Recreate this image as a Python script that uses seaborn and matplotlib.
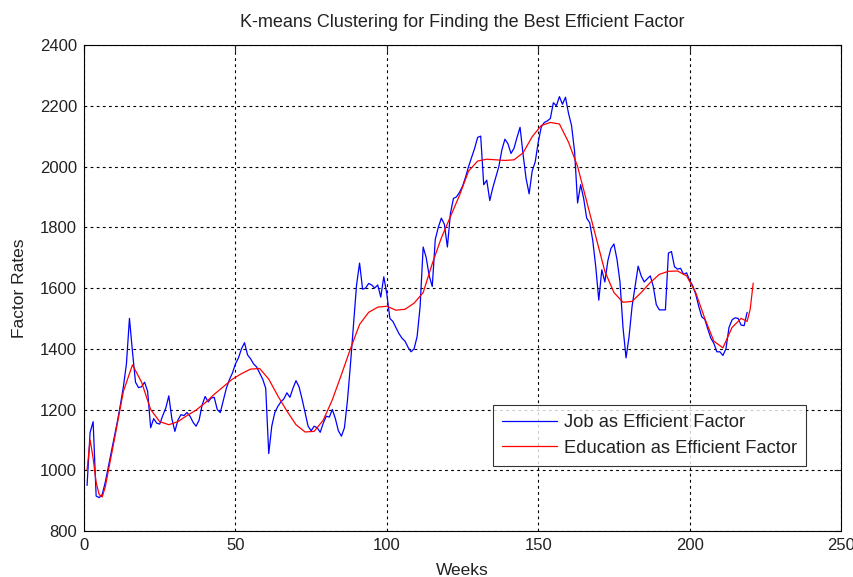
import pandas as pd
import matplotlib
matplotlib.use("Agg")
import matplotlib.pyplot as plt
import seaborn as sns

# Weekly factor rates
job_rates = [
    950, 1124, 1160, 915, 910, 920, 960, 1010, 1060, 1110,
    1160, 1215, 1275, 1350, 1500, 1390, 1290, 1272, 1275, 1290,
    1260, 1140, 1170, 1155, 1152, 1180, 1205, 1245, 1170, 1128,
    1165, 1183, 1180, 1190, 1178, 1158, 1145, 1165, 1215, 1243,
    1225, 1238, 1240, 1200, 1190, 1230, 1270, 1298, 1320, 1350,
    1370, 1400, 1420, 1380, 1367, 1350, 1340, 1320, 1300, 1270,
    1055, 1145, 1190, 1210, 1225, 1235, 1255, 1240, 1270, 1295,
    1275, 1235, 1190, 1145, 1130, 1145, 1140, 1125, 1155, 1178,
    1175, 1200, 1170, 1130, 1112, 1140, 1230, 1350, 1480, 1610,
    1682, 1596, 1600, 1615, 1610, 1600, 1610, 1570, 1637, 1580,
    1500, 1490, 1470, 1450, 1435, 1425, 1405, 1390, 1400, 1440,
    1540, 1735, 1700, 1640, 1605, 1760, 1800, 1830, 1810, 1735,
    1845, 1895, 1900, 1915, 1935, 1965, 2000, 2030, 2060, 2096,
    2100, 1940, 1955, 1888, 1930, 1965, 2000, 2055, 2090, 2075,
    2043, 2060, 2096, 2129, 2040, 1960, 1910, 1985, 2015, 2080,
    2130, 2145, 2150, 2158, 2210, 2200, 2230, 2205, 2228, 2175,
    2135, 2050, 1880, 1940, 1895, 1830, 1815, 1757, 1670, 1560,
    1660, 1620, 1690, 1730, 1745, 1695, 1620, 1470, 1370, 1440,
    1540, 1605, 1672, 1640, 1620, 1630, 1640, 1605, 1545, 1528,
    1528, 1528, 1715, 1720, 1670, 1662, 1665, 1645, 1650, 1625,
    1608, 1580, 1540, 1505, 1497, 1465, 1435, 1418, 1390, 1390,
    1378, 1400, 1470, 1495, 1502, 1500, 1478, 1476, 1520,
]
job_weeks = list(range(1, len(job_rates) + 1))

edu_weeks = [
    1, 2, 3, 4, 5, 6, 7, 10, 13, 16, 19, 22, 25, 28, 31, 34, 37, 40,
    43, 46, 49, 52, 55, 58, 61, 64, 67, 70, 73, 76, 79, 82, 85, 88,
    91, 94, 97, 100, 103, 106, 109, 112, 115, 118, 121, 124, 127, 130,
    133, 136, 139, 142, 145, 148, 151, 154, 157, 160, 163, 166, 169,
    172, 175, 178, 181, 184, 187, 190, 193, 196, 199, 202, 205, 208,
    211, 214, 217, 219, 220, 221,
]
edu_rates = [
    1000, 1100, 1040, 960, 920, 912, 945, 1100, 1260, 1347, 1290, 1200,
    1160, 1150, 1160, 1180, 1198, 1222, 1250, 1275, 1300, 1318, 1333,
    1335, 1300, 1245, 1195, 1150, 1126, 1128, 1165, 1232, 1315, 1400,
    1480, 1520, 1537, 1540, 1527, 1530, 1550, 1585, 1680, 1765, 1835,
    1905, 1985, 2018, 2024, 2022, 2020, 2022, 2045, 2098, 2135, 2145,
    2140, 2080, 2000, 1885, 1770, 1655, 1585, 1553, 1556, 1585, 1618,
    1645, 1655, 1656, 1640, 1585, 1500, 1425, 1403, 1470, 1500, 1490,
    1530, 1616,
]

x_ticks = [0, 50, 100, 150, 200, 250]
y_ticks = [800, 1000, 1200, 1400, 1600, 1800, 2000, 2200, 2400]

job_df = pd.DataFrame({"week": job_weeks, "rate": job_rates})
edu_df = pd.DataFrame({"week": edu_weeks, "rate": edu_rates})

sns.set_style("white")
plt.rcParams["font.family"] = ["Liberation Sans", "DejaVu Sans"]

fig = plt.figure(figsize=(8.54, 5.77), dpi=100)
ax = fig.add_axes([0.0984, 0.0797, 0.8864, 0.8423])

sns.lineplot(data=job_df, x="week", y="rate", color="#0000ff", linewidth=0.9,
             label="Job as Efficient Factor", ax=ax)
sns.lineplot(data=edu_df, x="week", y="rate", color="#ff0000", linewidth=0.9,
             label="Education as Efficient Factor", ax=ax)

ax.set_xlim(0, 250)
ax.set_ylim(800, 2400)
ax.set_xticks(x_ticks)
ax.set_yticks(y_ticks)
ax.grid(True, color="black", linestyle=(0, (2.5, 3)), linewidth=0.8)
ax.set_axisbelow(True)
ax.tick_params(direction="in", top=True, right=True, length=5, width=0.8,
               labelsize=12, colors="#222222")
ax.tick_params(axis="x", pad=5)
ax.tick_params(axis="y", pad=5)
for side in ax.spines.values():
    side.set_color("black")
    side.set_linewidth(0.8)

ax.set_title("K-means Clustering for Finding the Best Efficient Factor",
             fontsize=13, color="#222222", pad=13)
ax.set_xlabel("Weeks", fontsize=12.5, color="#222222", labelpad=7)
ax.set_ylabel("Factor Rates", fontsize=12.5, color="#222222", labelpad=9)

leg = ax.legend(loc="lower right", bbox_to_anchor=(0.954, 0.134), fontsize=13.2,
                handlelength=3.0, handletextpad=0.35, frameon=True,
                fancybox=False, borderpad=0.5, labelspacing=0.45,
                borderaxespad=0)
leg.get_frame().set_edgecolor("black")
leg.get_frame().set_linewidth(0.8)
for t in leg.get_texts():
    t.set_color("#222222")

fig.savefig("out.png", dpi=100, facecolor="white")
